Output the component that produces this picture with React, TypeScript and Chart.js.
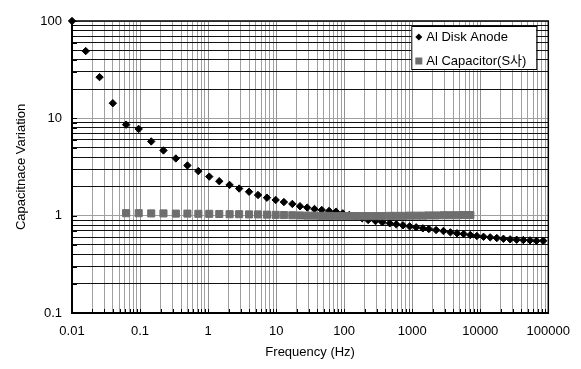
import { useEffect, useRef } from 'react';
import { Chart, registerables } from 'chart.js';

Chart.register(...registerables);

// Frequencies (Hz) of the measured points
const frequencies = [
  0.01, 0.0159, 0.0254, 0.0398, 0.0624, 0.0955, 0.146, 0.221, 0.336, 0.497,
  0.719, 1.04, 1.46, 2.07, 2.86, 4.0, 5.42, 7.33, 9.84, 13.0,
  17.3, 22.4, 28.6, 36.6, 46.8, 60.0, 75.9, 95.4, 119, 148,
  184, 225, 288, 364, 468, 583, 731, 916, 1143, 1433,
  1754, 2244, 2877, 3640, 4550, 5700, 7145, 8913, 11170, 14000,
  17500, 21900, 27470, 34280, 42950, 53830, 67150, 84140,
];

// Al Disk Anode capacitance variation
const anodeValues = [
  100, 49.1, 26.5, 14.3, 8.61, 7.78, 5.79, 4.68, 3.87, 3.28,
  2.87, 2.52, 2.26, 2.07, 1.9, 1.76, 1.63, 1.53, 1.45, 1.38,
  1.32, 1.25, 1.21, 1.17, 1.145, 1.118, 1.1, 1.056, 1.017, 0.977,
  0.94, 0.903, 0.882, 0.855, 0.835, 0.815, 0.796, 0.777, 0.759, 0.741,
  0.729, 0.712, 0.695, 0.674, 0.659, 0.648, 0.633, 0.618, 0.607, 0.599,
  0.589, 0.579, 0.571, 0.566, 0.562, 0.558, 0.552, 0.552,
];

// Al Capacitor (S사) starts at the 5th frequency
const capacitorStartIndex = 4;
const capacitorValues = [
  1.06, 1.06, 1.055, 1.055, 1.05, 1.05, 1.045, 1.045, 1.04, 1.035,
  1.035, 1.03, 1.03, 1.025, 1.02, 1.015, 1.01, 1.005, 1.0, 1.0,
  0.995, 0.995, 0.99, 0.99, 0.99, 0.99, 0.99, 0.99, 0.99, 0.99,
  0.995, 0.995, 0.995, 1.0, 1.0, 1.0, 1.005, 1.005, 1.01, 1.01,
  1.01, 1.015, 1.015,
];

const seriesNames = ['Al Disk Anode', 'Al Capacitor(S사)'];
const xTickLabels = ['0.01', '0.1', '1', '10', '100', '1000', '10000', '100000'];
const yTickLabels = ['0.1', '1', '10', '100'];
const minorMultipliers = [2, 3, 4, 5, 6, 7, 8, 9];

const FONT = "'Liberation Sans', Arial, 'Noto Sans CJK KR', sans-serif";
const ANODE_COLOR = '#000000';
const CAP_COLOR = '#6e6e6e';

function logTicks(labels: string[]) {
  const majors = labels.map(Number);
  const out: { value: number; major: boolean }[] = [];
  majors.forEach((m, i) => {
    out.push({ value: m, major: true });
    if (i < majors.length - 1) {
      minorMultipliers.forEach((k) =>
        out.push({ value: parseFloat((m * k).toPrecision(6)), major: false })
      );
    }
  });
  return out;
}

const xMajors = xTickLabels.map(Number);
const yMajors = yTickLabels.map(Number);
const isMajor = (list: number[], v: number) => list.some((m) => Math.abs(m - v) / m < 1e-6);

const frameAndLegend = {
  id: 'frameAndLegend',
  beforeDatasetsDraw(chart: any) {
    const { ctx, chartArea: a, scales } = chart;
    ctx.save();
    ctx.strokeStyle = '#000';
    ctx.lineWidth = 1;
    ctx.beginPath();
    logTicks(xTickLabels).forEach((t) => {
      const x = Math.round(scales.x.getPixelForValue(t.value)) + 0.5;
      ctx.moveTo(x, a.bottom);
      ctx.lineTo(x, a.bottom - 4);
    });
    logTicks(yTickLabels).forEach((t) => {
      const y = Math.round(scales.y.getPixelForValue(t.value)) + 0.5;
      ctx.moveTo(a.left, y);
      ctx.lineTo(a.left + 5, y);
    });
    ctx.stroke();
    ctx.lineWidth = 1.5;
    ctx.strokeRect(a.left, a.top, a.right - a.left, a.bottom - a.top);
    ctx.restore();
  },
  afterDraw(chart: any) {
    const { ctx, chartArea: a } = chart;
    const bx = a.right - 137;
    const by = a.top + 5;
    const bw = 125;
    const bh = 43;
    ctx.save();
    ctx.fillStyle = '#fff';
    ctx.fillRect(bx, by, bw, bh);
    ctx.strokeStyle = '#000';
    ctx.lineWidth = 1;
    ctx.strokeRect(bx + 0.5, by + 0.5, bw, bh);
    const mx = bx + 7.5;
    const y1 = by + 11;
    const y2 = by + 35;
    ctx.fillStyle = ANODE_COLOR;
    ctx.beginPath();
    ctx.moveTo(mx - 3.5, y1);
    ctx.lineTo(mx, y1 - 3.5);
    ctx.lineTo(mx + 3.5, y1);
    ctx.lineTo(mx, y1 + 3.5);
    ctx.closePath();
    ctx.fill();
    ctx.fillStyle = CAP_COLOR;
    ctx.fillRect(mx - 3.5, y2 - 3.5, 7, 7);
    ctx.fillStyle = '#000';
    ctx.font = `13px ${FONT}`;
    ctx.textBaseline = 'middle';
    ctx.textAlign = 'left';
    ctx.fillText(seriesNames[0], bx + 15, y1 + 0.5);
    ctx.fillText(seriesNames[1], bx + 15, y2 + 0.5);
    ctx.restore();
  },
};

export default function App() {
  const canvasRef = useRef<HTMLCanvasElement>(null);

  useEffect(() => {
    if (!canvasRef.current) return;
    const anodeData = frequencies.map((f, i) => ({ x: f, y: anodeValues[i] }));
    const capData = capacitorValues.map((v, i) => ({
      x: frequencies[capacitorStartIndex + i],
      y: v,
    }));
    const font = { family: FONT, size: 13 };

    const chart = new Chart(canvasRef.current, {
      type: 'scatter',
      data: {
        datasets: [
          {
            label: seriesNames[0],
            data: anodeData,
            pointStyle: 'rectRot',
            pointRadius: 3.7,
            backgroundColor: ANODE_COLOR,
            borderColor: ANODE_COLOR,
            borderWidth: 1,
            showLine: false,
            clip: false as any,
            order: 1,
          },
          {
            label: seriesNames[1],
            data: capData,
            pointStyle: 'rect',
            pointRadius: 5,
            backgroundColor: CAP_COLOR,
            borderColor: CAP_COLOR,
            borderWidth: 1,
            showLine: false,
            clip: false as any,
            order: 0,
          },
        ],
      },
      options: {
        responsive: false,
        animation: false,
        devicePixelRatio: 1,
        events: [],
        layout: { padding: { top: 21, right: 30, left: 0, bottom: 0 } },
        plugins: {
          legend: { display: false },
          tooltip: { enabled: false },
        },
        scales: {
          x: {
            type: 'logarithmic',
            min: 0.01,
            max: 100000,
            afterBuildTicks: (scale: any) => {
              scale.ticks = logTicks(xTickLabels);
            },
            afterFit: (scale: any) => {
              scale.height = 56;
            },
            ticks: {
              autoSkip: false,
              maxRotation: 0,
              minRotation: 0,
              padding: 11,
              color: '#000',
              font,
              callback: (v: any) => {
                const i = xMajors.findIndex((m) => Math.abs(m - Number(v)) / m < 1e-6);
                return i >= 0 ? xTickLabels[i] : '';
              },
            },
            grid: {
              drawTicks: false,
              lineWidth: 1,
              color: (c: any) => (c.tick && isMajor(xMajors, c.tick.value) ? '#929292' : '#a0a0a0'),
            },
            border: { color: '#000', width: 2 },
            title: {
              display: true,
              text: 'Frequency (Hz)',
              color: '#000',
              font,
              padding: { top: 0, bottom: 9 },
            },
          },
          y: {
            type: 'logarithmic',
            min: 0.1,
            max: 100,
            afterBuildTicks: (scale: any) => {
              scale.ticks = logTicks(yTickLabels);
            },
            afterFit: (scale: any) => {
              scale.width = 72;
            },
            ticks: {
              autoSkip: false,
              padding: 10,
              color: '#000',
              font,
              callback: (v: any) => {
                const i = yMajors.findIndex((m) => Math.abs(m - Number(v)) / m < 1e-6);
                return i >= 0 ? yTickLabels[i] : '';
              },
            },
            grid: {
              drawTicks: false,
              lineWidth: 1,
              color: (c: any) => (c.tick && isMajor(yMajors, c.tick.value) ? '#a0a0a0' : '#111111'),
            },
            border: { color: '#000', width: 2 },
            title: {
              display: true,
              text: 'Capacitnace Variation',
              color: '#000',
              font,
              padding: { top: 14, bottom: 0 },
            },
          },
        },
      },
      plugins: [frameAndLegend],
    } as any);

    return () => chart.destroy();
  }, []);

  return (
    <div style={{ position: 'fixed', left: 0, top: 0, width: 581, height: 369, background: '#fff' }}>
      <canvas ref={canvasRef} width={581} height={369} style={{ display: 'block', width: 581, height: 369 }} />
    </div>
  );
}
